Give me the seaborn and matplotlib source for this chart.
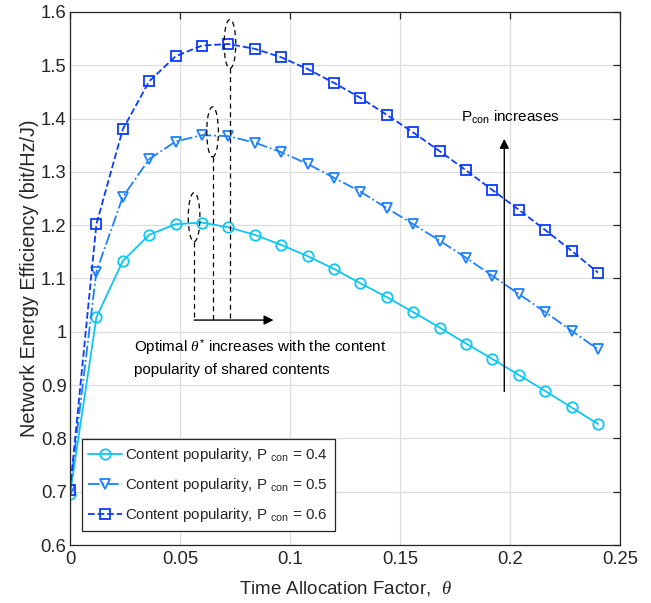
import numpy as np
import pandas as pd
import matplotlib
matplotlib.use("Agg")
import matplotlib.pyplot as plt
import seaborn as sns
from matplotlib.ticker import FuncFormatter
from matplotlib.patches import Ellipse

# ---------------- data ----------------
theta = [0.000, 0.012, 0.024, 0.036, 0.048, 0.060, 0.072, 0.084, 0.096, 0.108,
         0.120, 0.132, 0.144, 0.156, 0.168, 0.180, 0.192, 0.204, 0.216, 0.228, 0.240]
ee_p04 = [0.695, 1.027, 1.133, 1.182, 1.202, 1.205, 1.196, 1.182, 1.163, 1.142,
          1.118, 1.091, 1.065, 1.037, 1.008, 0.978, 0.949, 0.919, 0.889, 0.858, 0.827]
ee_p05 = [0.703, 1.113, 1.253, 1.324, 1.357, 1.369, 1.367, 1.355, 1.337, 1.315,
          1.289, 1.263, 1.232, 1.202, 1.171, 1.139, 1.105, 1.071, 1.037, 1.002, 0.967]
ee_p06 = [0.703, 1.202, 1.380, 1.470, 1.517, 1.537, 1.540, 1.531, 1.515, 1.493,
          1.467, 1.439, 1.407, 1.374, 1.339, 1.303, 1.266, 1.229, 1.191, 1.152, 1.111]
series_labels = [r"Content popularity, P $_{\mathrm{con}}$ = 0.4",
                 r"Content popularity, P $_{\mathrm{con}}$ = 0.5",
                 r"Content popularity, P $_{\mathrm{con}}$ = 0.6"]
x_ticks = [0, 0.05, 0.1, 0.15, 0.2, 0.25]
y_ticks = [0.6, 0.7, 0.8, 0.9, 1.0, 1.1, 1.2, 1.3, 1.4, 1.5, 1.6]
# optimal-theta markers (ellipses) : x centre, y centre, half height
opt_theta = [0.0564, 0.0648, 0.0727]
opt_ycen = [1.215, 1.375, 1.540]
opt_yhalf = [0.046, 0.047, 0.046]

# ---------------- style ----------------
sns.set_theme(style="white")
plt.rcParams["font.family"] = ["Liberation Sans", "DejaVu Sans"]
plt.rcParams["mathtext.fontset"] = "custom"
plt.rcParams["mathtext.rm"] = "Liberation Sans"
plt.rcParams["mathtext.it"] = "Liberation Serif:italic"
plt.rcParams["mathtext.bf"] = "Liberation Sans:bold"

axc = "#262626"
colors = ["#0EC6F2", "#1C80FF", "#0B3CFF"]
markers = ["o", "v", "s"]
styles = ["-", "-.", "--"]

fig = plt.figure(figsize=(6.51, 6.03), dpi=100)
ax = fig.add_axes([70 / 651, 1 - 545 / 603, 550 / 651, 533 / 603])

for ys, lab, c, m, ls in zip([ee_p04, ee_p05, ee_p06], series_labels, colors, markers, styles):
    df = pd.DataFrame({"theta": theta, "ee": ys})
    sns.lineplot(data=df, x="theta", y="ee", ax=ax, color=c, marker=m,
                 linestyle=ls, linewidth=1.3, markersize=7.5 if m != "s" else 6.5,
                 markerfacecolor="none", markeredgecolor=c, markeredgewidth=1.3,
                 label=lab)

ax.set_xlim(0, 0.25)
ax.set_ylim(0.6, 1.6)
ax.set_xticks(x_ticks)
ax.set_yticks(y_ticks)
ax.xaxis.set_major_formatter(FuncFormatter(lambda v, p: f"{v:g}"))
ax.yaxis.set_major_formatter(FuncFormatter(lambda v, p: f"{v:g}"))
ax.grid(True, color="#dedede", linewidth=0.9)
ax.set_axisbelow(True)
ax.tick_params(direction="in", length=5, width=0.9, colors=axc, labelcolor=axc,
               labelsize=13.3, top=True, right=True)
ax.tick_params(axis="y", pad=2.5)
ax.tick_params(axis="x", pad=4)
for sp in ax.spines.values():
    sp.set_color(axc)
    sp.set_linewidth(0.9)

ax.set_xlabel(r"Time Allocation Factor,  $\theta$", fontsize=13.5, color=axc, labelpad=8)
ax.set_ylabel("Network Energy Efficiency (bit/Hz/J)", fontsize=14.3, color=axc, labelpad=1)

# ellipses + dashed drop lines
arrow_y = 1.022
for xc, yc, yh in zip(opt_theta, opt_ycen, opt_yhalf):
    ax.add_patch(Ellipse((xc, yc), 0.0053, 2 * yh, fill=False, ec="black",
                         ls=(0, (4, 3)), lw=0.9, zorder=5))
    ax.plot([xc, xc], [yc - yh, arrow_y], color="black", ls=(0, (4, 3)), lw=0.9, zorder=5)

ax.annotate("", xy=(0.0925, arrow_y), xytext=(opt_theta[0], arrow_y),
            arrowprops=dict(arrowstyle="-|>", color="black", lw=1.0,
                            mutation_scale=14, shrinkA=0, shrinkB=0))
ax.text(0.029, 0.971, r"Optimal $\theta^{*}$ increases with the content",
        fontsize=11, color="black", va="center", ha="left")
ax.text(0.029, 0.928, "popularity of shared contents",
        fontsize=11, color="black", va="center", ha="left")

ax.annotate("", xy=(0.1974, 1.362), xytext=(0.1974, 0.888),
            arrowprops=dict(arrowstyle="-|>", color="black", lw=1.0,
                            mutation_scale=14, shrinkA=0, shrinkB=0))
ax.text(0.1777, 1.402, r"P$_{\mathrm{con}}$ increases", fontsize=11,
        color="black", va="center", ha="left")

leg = ax.legend(loc="lower left", bbox_to_anchor=(0.021, 0.026), fontsize=10.9,
                frameon=True, fancybox=False, edgecolor=axc, framealpha=1,
                handlelength=2.2, handletextpad=0.25, borderpad=0.45,
                labelspacing=0.8, borderaxespad=0)
leg.get_frame().set_linewidth(0.9)

fig.savefig("out.png", dpi=100)
